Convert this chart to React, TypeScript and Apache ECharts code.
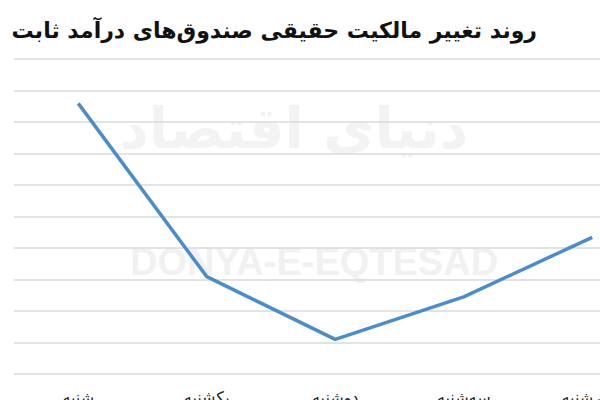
import React, { useEffect, useRef } from "react";
import * as echarts from "echarts";

const title = "روند تغییر مالکیت حقیقی صندوق‌های درآمد ثابت";
const categories = ["شنبه", "یکشنبه", "دوشنبه", "سه‌شنبه", "چهارشنبه"];
const values = [85.9, 30.9, 11.0, 24.5, 43.4];
const yMin = 0;
const yMax = 100;
const yInterval = 10;

export default function App() {
  const ref = useRef<HTMLDivElement>(null);
  useEffect(() => {
    if (!ref.current) return;
    const chart = echarts.init(ref.current, null, { renderer: "svg" });
    chart.setOption({
      animation: false,
      backgroundColor: "#ffffff",
      title: {
        text: title,
        right: 58,
        top: 14,
        textStyle: {
          fontFamily: "DejaVu Sans",
          fontWeight: "bold",
          fontSize: 22,
          color: "#111111",
        },
      },
      graphic: [
        {
          type: "text",
          left: 130,
          top: 243,
          z: 0,
          style: {
            text: "DONYA-E-EQTESAD",
            fontFamily: "Liberation Sans",
            fontWeight: "bold",
            fontSize: 38,
            fill: "#f1f1f1",
          },
        },
        {
          type: "text",
          left: 120,
          top: 100,
          z: 0,
          style: {
            text: "دنیای اقتصاد",
            fontFamily: "DejaVu Sans",
            fontWeight: "bold",
            fontSize: 56,
            fill: "#f3f3f3",
          },
        },
      ],
      grid: {
        left: 14,
        right: -56.5,
        top: 59,
        bottom: 26,
        containLabel: false,
        outerBoundsMode: "none",
      },
      xAxis: {
        type: "category",
        data: categories,
        boundaryGap: true,
        axisLine: { show: false },
        axisTick: { show: false },
        axisLabel: {
          margin: 15,
          fontFamily: "DejaVu Sans",
          fontSize: 16,
          color: "#222222",
        },
      },
      yAxis: {
        type: "value",
        min: yMin,
        max: yMax,
        interval: yInterval,
        axisLabel: { show: false },
        axisLine: { show: false },
        axisTick: { show: false },
        splitLine: { lineStyle: { color: "#dadada", width: 1.5 } },
      },
      series: [
        {
          type: "line",
          data: values,
          symbol: "none",
          z: 5,
          lineStyle: { color: "#4a8dcd", width: 3.5 },
        },
      ],
    });
    return () => chart.dispose();
  }, []);
  return <div ref={ref} style={{ width: 600, height: 400, position: "fixed", left: 0, top: 0 }} />;
}
